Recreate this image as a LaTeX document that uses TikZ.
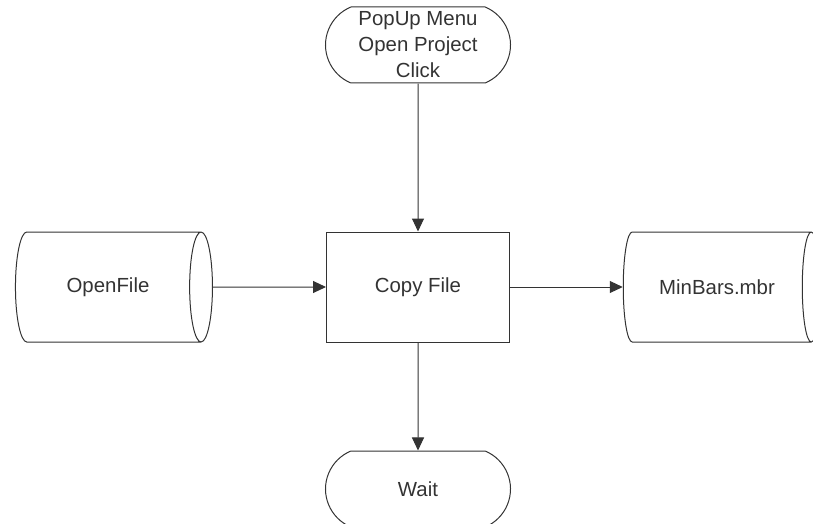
\documentclass[tikz,border=0pt]{standalone}
\usepackage{fontspec}
\setmainfont{Liberation Sans}
\usetikzlibrary{shapes.geometric,shapes.misc,arrows.meta}
\begin{document}
\begin{tikzpicture}[x=0.5pt,y=-0.5pt,
		line width=0.5pt, draw=black!80, text=black!80,
		font=\fontsize{10.2}{13}\selectfont,
		term/.style={draw, rounded rectangle, rounded rectangle arc length=135, minimum width=92.5pt, minimum height=38pt, inner sep=0pt, align=center},
		proc/.style={draw, rectangle, minimum width=91.5pt, minimum height=55pt},
		store/.style={draw, cylinder, aspect=1.2, minimum height=98.5pt, minimum width=55pt, inner sep=0pt},
		flow/.style={-{Triangle[width=6pt,length=6.5pt]}}]

		\useasboundingbox (0,0) rectangle (813,524);

		\node[term] (popup) at (418,45) {PopUp Menu\\Open Project\\Click};
		\node[proc] (copy) at (418,287) {Copy File};
		\node[store] (open) at (108,287) {OpenFile};
		\node[store] (minbars) at (717,287) {MinBars.mbr};
		\node[term] (wait) at (418,489) {Wait};

		\draw[flow] (popup) -- (copy);
		\draw[flow] (open) -- (copy);
		\draw[flow] (copy) -- (minbars);
		\draw[flow] (copy) -- (wait);

	\end{tikzpicture}
\end{document}
